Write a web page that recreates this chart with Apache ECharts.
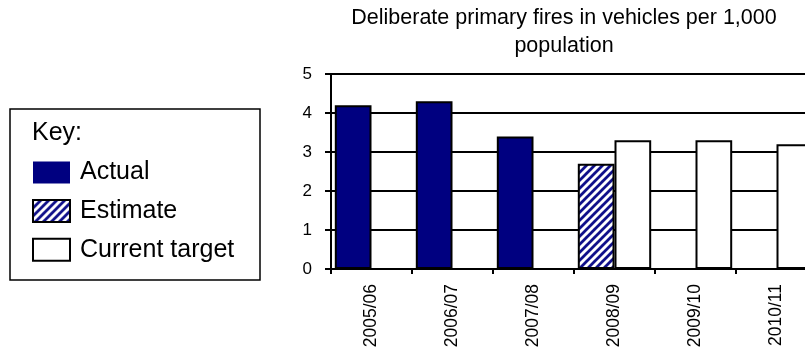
<!DOCTYPE html>
<html>
<head>
<meta charset="utf-8">
<script src="https://cdn.jsdelivr.net/npm/echarts@6/dist/echarts.min.js"></script>
<style>
  html, body { margin: 0; padding: 0; background: #fff; }
  #chart { width: 805px; height: 354px; }
</style>
</head>
<body>
<div id="chart"></div>
<script>
// Deliberate primary fires in vehicles per 1,000 population
const categories = ['2005/06', '2006/07', '2007/08', '2008/09', '2009/10', '2010/11'];
const actualValues = [4.2, 4.3, 3.4, '-', '-', '-'];
const estimateValues = ['-', '-', '-', 2.7, '-', '-'];
const targetValues = ['-', '-', '-', 3.3, 3.3, 3.2];
const seriesNames = ['Actual', 'Estimate', 'Current target'];
const titleText = 'Deliberate primary fires in vehicles per 1,000\npopulation';
const keyLabel = 'Key:';

const NAVY = '#000080';
const FONT = 'Liberation Sans, Arial, sans-serif';

// diagonal navy/white hatching for the estimate bar
function makeHatch() {
  const s = 8;
  const c = document.createElement('canvas');
  c.width = s; c.height = s;
  const g = c.getContext('2d');
  g.fillStyle = '#ffffff';
  g.fillRect(0, 0, s, s);
  g.strokeStyle = '#10108a';
  g.lineWidth = 2.8;
  g.beginPath();
  g.moveTo(0, s); g.lineTo(s, 0);
  g.moveTo(-2, 2); g.lineTo(2, -2);
  g.moveTo(s - 2, s + 2); g.lineTo(s + 2, s - 2);
  g.stroke();
  return { image: c, repeat: 'repeat' };
}
const hatch = makeHatch();

const chart = echarts.init(document.getElementById('chart'), null, { renderer: 'canvas' });

const barBorder = { borderColor: '#000', borderWidth: 2 };

chart.setOption({
  animation: false,
  backgroundColor: '#fff',
  textStyle: { fontFamily: FONT, color: '#000' },
  title: {
    text: titleText,
    left: 559,
    top: -1,
    textAlign: 'center',
    textStyle: { fontFamily: FONT, fontSize: 21.5, fontWeight: 'normal', color: '#000', lineHeight: 28 }
  },
  legend: {
    orient: 'vertical',
    left: 32,
    top: 160,
    padding: 0,
    itemWidth: 37,
    itemHeight: 22,
    itemGap: 13.6,
    icon: 'rect',
    selectedMode: false,
    textStyle: { fontFamily: FONT, fontSize: 25, color: '#000', lineHeight: 22, padding: [0, 0, 0, 5] },
    data: [
      { name: seriesNames[0], itemStyle: { borderWidth: 0 } },
      { name: seriesNames[1] },
      { name: seriesNames[2] }
    ]
  },
  graphic: [
    {
      type: 'rect',
      shape: { x: 10, y: 109, width: 250, height: 171 },
      style: { fill: 'none', stroke: '#000', lineWidth: 1.5 },
      silent: true
    },
    {
      type: 'text',
      left: 32,
      top: 121,
      style: { text: keyLabel, font: '25px ' + FONT, fill: '#000' },
      silent: true
    }
  ],
  grid: { left: 331, top: 74, width: 486, height: 195, containLabel: false, outerBoundsMode: 'none' },
  xAxis: {
    type: 'category',
    data: categories,
    axisLine: { lineStyle: { color: '#000', width: 2 } },
    axisTick: { show: true, length: 5, lineStyle: { color: '#000', width: 2 } },
    axisLabel: { rotate: 90, fontSize: 17.5, fontFamily: FONT, color: '#000', margin: 15 },
    splitLine: { show: false }
  },
  yAxis: {
    type: 'value',
    min: 0,
    max: 5,
    interval: 1,
    axisLine: { show: true, lineStyle: { color: '#000', width: 2 } },
    axisTick: { show: true, length: 6, lineStyle: { color: '#000', width: 2 } },
    axisLabel: { fontSize: 17, fontFamily: FONT, color: '#000', margin: 19 },
    splitLine: { show: true, lineStyle: { color: '#000', width: 2 } }
  },
  series: [
    {
      name: seriesNames[0],
      type: 'bar',
      stack: 'measured',
      data: actualValues,
      itemStyle: Object.assign({ color: NAVY }, barBorder),
      barGap: '0%',
      barCategoryGap: '9.4%'
    },
    {
      name: seriesNames[1],
      type: 'bar',
      stack: 'measured',
      data: estimateValues,
      itemStyle: Object.assign({ color: hatch }, barBorder),
      barGap: '0%',
      barCategoryGap: '9.4%'
    },
    {
      name: seriesNames[2],
      type: 'bar',
      data: targetValues,
      itemStyle: Object.assign({ color: '#fff' }, barBorder),
      barGap: '0%',
      barCategoryGap: '9.4%'
    }
  ]
});
</script>
</body>
</html>
